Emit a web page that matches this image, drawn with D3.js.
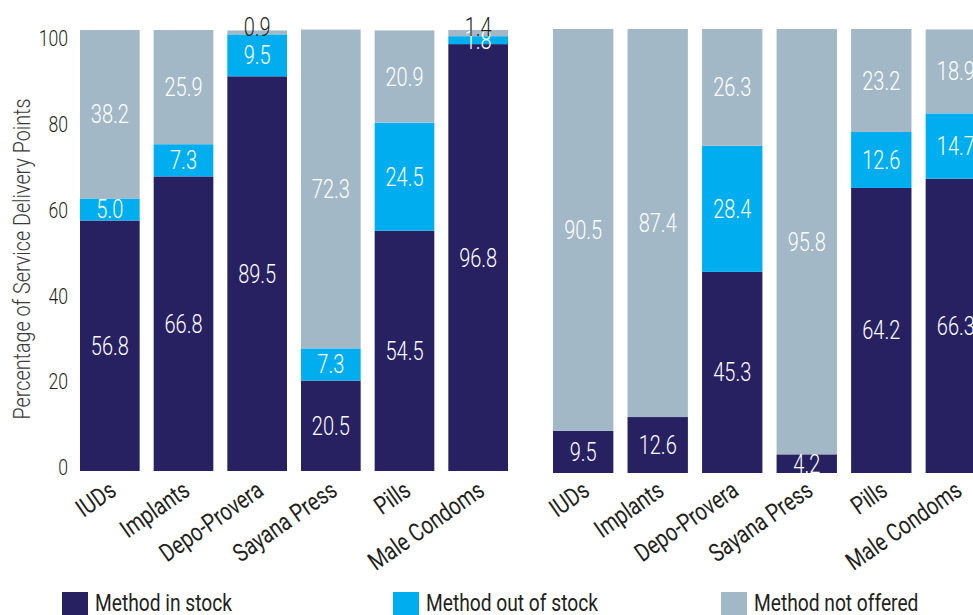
<!DOCTYPE html>
<html>
<head>
<meta charset="utf-8">
<script src="https://cdn.jsdelivr.net/npm/d3@7"></script>
<style>
  body { margin: 0; background: #fff; }
  text { font-family: Roboto, "Liberation Sans", sans-serif; font-weight: 300; }
</style>
</head>
<body>
<svg id="chart" width="973" height="615"></svg>
<script>
// Contraceptive methods (x categories)
const methods = ["IUDs", "Implants", "Depo-Provera", "Sayana Press", "Pills", "Male Condoms"];

// Left panel values (%)
const leftInStock = [56.8, 66.8, 89.5, 20.5, 54.5, 96.8];
const leftOutOfStock = [5.0, 7.3, 9.5, 7.3, 24.5, 1.8];
const leftNotOffered = [38.2, 25.9, 0.9, 72.3, 20.9, 1.4];

// Right panel values (%)
const rightInStock = [9.5, 12.6, 45.3, 4.2, 64.2, 66.3];
const rightOutOfStock = [0, 0, 28.4, 0, 12.6, 14.7];
const rightNotOffered = [90.5, 87.4, 26.3, 95.8, 23.2, 18.9];

const seriesNames = ["Method in stock", "Method out of stock", "Method not offered"];
const yTicks = [0, 20, 40, 60, 80, 100];

const keys = ["inStock", "outOfStock", "notOffered"];
const colors = { inStock: "#272162", outOfStock: "#00aeef", notOffered: "#a3b8c6" };

// the original uses a condensed face; squeeze Roboto horizontally
const narrow = "scale(0.8,1)";

const svg = d3.select("#chart");

function buildTable(a, b, c) {
    return methods.map((m, i) => ({ method: m, inStock: a[i], outOfStock: b[i], notOffered: c[i] }));
}

const stack = d3.stack().keys(keys);

function drawPanel(table, xRange, yRange) {
    const x = d3.scaleBand().domain(methods).range(xRange).paddingInner(0.19).paddingOuter(0);
    const y = d3.scaleLinear().domain([0, 100]).range(yRange);
    const layers = stack(table);

    const g = svg.append("g");

    // stacked segments
    g.selectAll("g.layer")
        .data(layers)
        .enter().append("g")
        .attr("class", "layer")
        .attr("fill", d => colors[d.key])
        .selectAll("rect")
        .data(d => d)
        .enter().append("rect")
        .attr("x", d => x(d.data.method))
        .attr("width", x.bandwidth())
        .attr("y", d => y(d[1]))
        .attr("height", d => Math.max(0, y(d[0]) - y(d[1])));

    // value labels
    layers.forEach(layer => {
        layer.forEach(d => {
            const v = d[1] - d[0];
            if (v <= 0) return;
            const cx = x(d.data.method) + x.bandwidth() / 2;
            // tiny top segments get their label just above the bar
            const above = layer.key === "notOffered" && v < 1.5;
            const ty = above ? y(d[1]) + 6 : (y(d[0]) + y(d[1])) / 2 + 9;
            g.append("text")
                .attr("transform", `translate(${cx},${ty}) ${narrow}`)
                .attr("text-anchor", "middle")
                .attr("font-size", 25)
                .attr("fill", above ? "#231f20" : "#ffffff")
                .text(d3.format(".1f")(v));
        });
    });

    // rotated category labels
    g.selectAll("text.cat")
        .data(methods)
        .enter().append("text")
        .attr("class", "cat")
        .attr("text-anchor", "end")
        .attr("font-size", 25)
        .style("font-weight", 400)
        .attr("fill", "#231f20")
        .attr("transform", d => `translate(${x(d) + x.bandwidth() / 2 + 8},494) rotate(-35) ${narrow}`)
        .text(d => d);

    return y;
}

drawPanel(buildTable(leftInStock, leftOutOfStock, leftNotOffered), [80, 508], [471, 30]);
drawPanel(buildTable(rightInStock, rightOutOfStock, rightNotOffered), [553, 986], [473, 29]);

// y axis for the left panel (labels only)
const yAxisScale = d3.scaleLinear().domain([0, 100]).range([467, 38]);
const yAxis = svg.append("g")
    .attr("transform", "translate(68,0)")
    .call(d3.axisLeft(yAxisScale).tickValues(yTicks).tickSize(0).tickPadding(0));
yAxis.select(".domain").remove();
yAxis.selectAll("text")
    .attr("font-size", 22)
    .attr("fill", "#231f20")
    .attr("dy", "0.35em")
    .attr("transform", narrow);

svg.append("text")
    .attr("transform", `translate(30,259) rotate(-90) scale(0.86,1)`)
    .attr("text-anchor", "middle")
    .attr("font-size", 23)
    .attr("fill", "#3a3a3a")
    .text("Percentage of Service Delivery Points");

// legend
const legendX = [62, 393, 721];
const legend = svg.append("g")
    .selectAll("g")
    .data(seriesNames)
    .enter().append("g")
    .attr("transform", (d, i) => `translate(${legendX[i]},592)`);

legend.append("rect")
    .attr("width", 26)
    .attr("height", 26)
    .attr("fill", (d, i) => colors[keys[i]]);

legend.append("text")
    .attr("transform", `translate(33,19) ${narrow}`)
    .attr("font-size", 24)
    .style("font-weight", 400)
    .attr("fill", "#231f20")
    .text(d => d);
</script>
</body>
</html>
